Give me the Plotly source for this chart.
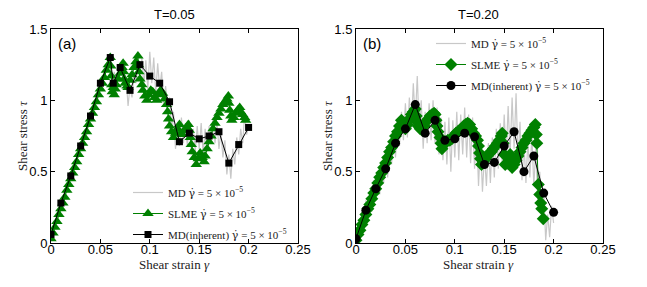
import plotly.graph_objects as go

# ---------------- data ----------------
# Panel (a) T=0.05
md_a_gamma = [round(i * 0.002, 3) for i in range(101)]
md_a_tau = [0.05, 0.10, 0.13, 0.19, 0.21, 0.28, 0.29, 0.35, 0.37, 0.43,
            0.45, 0.51, 0.52, 0.59, 0.61, 0.67, 0.69, 0.75, 0.76, 0.83,
            0.86, 0.91, 0.92, 1.00, 1.02, 1.09, 1.12, 1.18, 1.20, 1.28,
            1.33, 1.08, 1.20, 1.12, 1.24, 1.18, 1.27, 1.10, 1.16, 0.96,
            1.10, 1.02, 1.20, 1.12, 1.26, 1.18, 1.30, 1.10, 1.28, 1.08,
            1.34, 1.12, 1.30, 1.05, 1.26, 1.08, 1.20, 0.98, 1.10, 0.95,
            1.02, 0.80, 0.92, 0.66, 0.80, 0.68, 0.88, 0.70, 0.84, 0.68,
            0.86, 0.62, 0.80, 0.64, 0.82, 0.66, 0.84, 0.62, 0.80, 0.64,
            0.82, 0.70, 0.88, 0.70, 0.85, 0.66, 0.78, 0.60, 0.72, 0.48,
            0.62, 0.45, 0.66, 0.55, 0.74, 0.62, 0.80, 0.70, 0.90, 0.76,
            0.82]

slme_a_gamma = [0.000, 0.002, 0.004, 0.006, 0.008, 0.010, 0.012, 0.014, 0.016, 0.018,
                0.020, 0.022, 0.024, 0.026, 0.028, 0.030, 0.032, 0.034, 0.036, 0.038,
                0.040, 0.042, 0.044, 0.046, 0.048, 0.050, 0.052, 0.054, 0.056, 0.058,
                0.060, 0.0605, 0.061, 0.0615, 0.062, 0.063, 0.064, 0.065, 0.066, 0.068,
                0.070, 0.072, 0.073, 0.0735, 0.074, 0.075, 0.077, 0.078, 0.080, 0.082,
                0.084, 0.086, 0.088, 0.0885, 0.089, 0.090, 0.092, 0.093, 0.095, 0.097,
                0.099, 0.101, 0.103, 0.105, 0.107, 0.109, 0.111, 0.113, 0.115, 0.117,
                0.118, 0.119, 0.120, 0.122, 0.124, 0.126, 0.128, 0.130, 0.131, 0.133,
                0.135, 0.137, 0.139, 0.140, 0.141, 0.142, 0.143, 0.145, 0.147, 0.149,
                0.151, 0.153, 0.155, 0.156, 0.158, 0.160, 0.162, 0.164, 0.166, 0.168,
                0.170, 0.172, 0.174, 0.176, 0.178, 0.1795, 0.180, 0.181, 0.182, 0.183,
                0.185, 0.187, 0.189, 0.191, 0.192, 0.194, 0.196, 0.197]
slme_a_tau = [0.03, 0.07, 0.11, 0.15, 0.20, 0.24, 0.28, 0.32, 0.37, 0.41,
              0.45, 0.49, 0.53, 0.57, 0.62, 0.66, 0.70, 0.74, 0.78, 0.83,
              0.87, 0.91, 0.95, 0.99, 1.04, 1.08, 1.12, 1.16, 1.21, 1.25,
              1.30, 1.24, 1.17, 1.11, 1.06, 1.09, 1.04, 1.08, 1.11, 1.15,
              1.19, 1.23, 1.26, 1.20, 1.15, 1.12, 1.10, 1.09, 1.14, 1.18,
              1.23, 1.27, 1.31, 1.25, 1.20, 1.15, 1.11, 1.07, 1.03, 1.00,
              1.04, 1.07, 1.06, 1.02, 1.00, 1.04, 1.07, 1.05, 1.01, 0.97,
              0.92, 0.87, 0.82, 0.78, 0.74, 0.77, 0.80, 0.83, 0.77, 0.76,
              0.79, 0.81, 0.83, 0.79, 0.74, 0.69, 0.64, 0.60, 0.55, 0.59,
              0.63, 0.60, 0.57, 0.61, 0.66, 0.71, 0.75, 0.80, 0.84, 0.88,
              0.91, 0.94, 0.97, 0.99, 1.01, 1.03, 0.98, 0.93, 0.89, 0.86,
              0.88, 0.91, 0.93, 0.95, 0.92, 0.90, 0.88, 0.86]

inh_a_gamma = [0.00, 0.01, 0.02, 0.03, 0.04, 0.05, 0.06, 0.063, 0.07, 0.08, 0.09,
               0.10, 0.11, 0.12, 0.13, 0.14, 0.15, 0.16, 0.17, 0.18, 0.19, 0.20]
inh_a_tau = [0.06, 0.28, 0.47, 0.68, 0.89, 1.12, 1.30, 1.12, 1.23, 1.07, 1.25,
             1.17, 1.12, 0.99, 0.71, 0.77, 0.73, 0.75, 0.78, 0.56, 0.69, 0.81]

# Panel (b) T=0.20
md_b_gamma = [round(i * 0.002, 3) for i in range(101)]
md_b_tau = [0.02, 0.14, 0.05, 0.22, 0.12, 0.30, 0.18, 0.36, 0.22, 0.44,
            0.30, 0.50, 0.34, 0.56, 0.42, 0.64, 0.46, 0.70, 0.55, 0.78,
            0.60, 0.85, 0.68, 0.92, 0.72, 0.98, 0.74, 1.02, 0.80, 1.12,
            0.86, 1.17, 0.80, 1.00, 0.66, 0.92, 0.70, 0.98, 0.72, 1.00,
            0.70, 0.95, 0.62, 0.88, 0.58, 0.85, 0.55, 0.88, 0.50, 0.86,
            0.60, 0.92, 0.58, 0.90, 0.62, 0.95, 0.60, 0.90, 0.56, 0.88,
            0.52, 0.80, 0.40, 0.70, 0.36, 0.62, 0.40, 0.70, 0.42, 0.74,
            0.46, 0.80, 0.52, 0.84, 0.56, 0.90, 0.60, 0.96, 0.62, 1.02,
            0.66, 1.05, 0.58, 0.85, 0.44, 0.70, 0.42, 0.72, 0.46, 0.76,
            0.40, 0.66, 0.30, 0.50, 0.18, 0.36, 0.02, 0.20, 0.04, 0.26,
            0.14]

slme_b_gamma = [0.000, 0.002, 0.004, 0.006, 0.008, 0.010, 0.012, 0.014, 0.016, 0.018,
                0.020, 0.022, 0.024, 0.026, 0.028, 0.030, 0.032, 0.034, 0.036, 0.038,
                0.040, 0.042, 0.044, 0.046, 0.048, 0.050, 0.052, 0.054, 0.056, 0.058,
                0.060, 0.061, 0.062, 0.063, 0.065, 0.067, 0.069, 0.071, 0.073, 0.075,
                0.077, 0.079, 0.080, 0.081, 0.082, 0.083, 0.085, 0.086, 0.087, 0.089,
                0.091, 0.093, 0.095, 0.097, 0.099, 0.101, 0.103, 0.105, 0.107, 0.109,
                0.111, 0.113, 0.115, 0.117, 0.119, 0.121, 0.123, 0.124, 0.125, 0.126,
                0.127, 0.129, 0.131, 0.133, 0.135, 0.137, 0.139, 0.141, 0.143, 0.145,
                0.147, 0.148, 0.149, 0.150, 0.151, 0.153, 0.155, 0.156, 0.157, 0.158,
                0.160, 0.162, 0.164, 0.166, 0.168, 0.170, 0.172, 0.174, 0.176, 0.178,
                0.180, 0.1815, 0.1825, 0.183, 0.1845, 0.186, 0.187, 0.188, 0.1895]
slme_b_tau = [0.02, 0.06, 0.09, 0.13, 0.16, 0.20, 0.24, 0.27, 0.31, 0.35,
              0.38, 0.42, 0.46, 0.49, 0.53, 0.56, 0.60, 0.64, 0.67, 0.71,
              0.75, 0.78, 0.82, 0.86, 0.83, 0.80, 0.83, 0.87, 0.90, 0.92,
              0.94, 0.89, 0.85, 0.82, 0.80, 0.79, 0.82, 0.85, 0.87, 0.89,
              0.90, 0.91, 0.90, 0.86, 0.82, 0.78, 0.74, 0.70, 0.66, 0.69,
              0.71, 0.72, 0.72, 0.73, 0.75, 0.77, 0.78, 0.79, 0.80, 0.82,
              0.83, 0.84, 0.83, 0.80, 0.77, 0.75, 0.72, 0.68, 0.63, 0.59,
              0.55, 0.57, 0.59, 0.61, 0.63, 0.64, 0.66, 0.68, 0.70, 0.72,
              0.75, 0.77, 0.70, 0.62, 0.55, 0.56, 0.60, 0.62, 0.57, 0.53,
              0.55, 0.58, 0.61, 0.64, 0.67, 0.70, 0.72, 0.75, 0.77, 0.79,
              0.81, 0.83, 0.76, 0.70, 0.41, 0.34, 0.28, 0.24, 0.17]

inh_b_gamma = [0.00, 0.01, 0.02, 0.03, 0.04, 0.05, 0.06, 0.07, 0.08, 0.09, 0.10,
               0.11, 0.12, 0.13, 0.14, 0.15, 0.16, 0.17, 0.18, 0.19, 0.20]
inh_b_tau = [0.03, 0.23, 0.38, 0.52, 0.70, 0.80, 0.97, 0.77, 0.86, 0.72, 0.73,
             0.77, 0.745, 0.55, 0.565, 0.68, 0.78, 0.50, 0.61, 0.35, 0.215]

x_ticks = [0, 0.05, 0.1, 0.15, 0.2, 0.25]
x_ticklabels = ["0", "0.05", "0.1", "0.15", "0.2", "0.25"]
y_ticks = [0, 0.5, 1, 1.5]
y_ticklabels = ["0", "0.5", "1", "1.5"]

rate = ("<span style=\"font-family:'DejaVu Serif'\">γ̇</span>"
        " = 5 × 10<sup>−5</sup>")
lbl_md = "MD " + rate
lbl_slme = "SLME " + rate
lbl_inh = "MD(inherent) " + rate

# ---------------- figure ----------------
W, H = 647, 287
GRAY = "#c8c8c8"
GREEN = "#008000"
SANS = "Liberation Sans, Arial, sans-serif"
SERIF = "Liberation Serif, DejaVu Serif, serif"

fig = go.Figure()

# panel (a)
fig.add_trace(go.Scatter(x=md_a_gamma, y=md_a_tau, mode="lines", name=lbl_md,
                         line=dict(color=GRAY, width=1.2), xaxis="x", yaxis="y",
                         legend="legend", legendgroup="a1"))
fig.add_trace(go.Scatter(x=slme_a_gamma, y=slme_a_tau, mode="lines+markers", name=lbl_slme,
                         line=dict(color=GREEN, width=1),
                         marker=dict(symbol="triangle-up", size=10, color=GREEN),
                         xaxis="x", yaxis="y", legend="legend", legendgroup="a2"))
fig.add_trace(go.Scatter(x=inh_a_gamma, y=inh_a_tau, mode="lines+markers", name=lbl_inh,
                         line=dict(color="black", width=1),
                         marker=dict(symbol="square", size=7, color="black"),
                         xaxis="x", yaxis="y", legend="legend", legendgroup="a3"))

# panel (b)
fig.add_trace(go.Scatter(x=md_b_gamma, y=md_b_tau, mode="lines", name=lbl_md,
                         line=dict(color=GRAY, width=1.2), xaxis="x2", yaxis="y2",
                         legend="legend2", legendgroup="b1"))
fig.add_trace(go.Scatter(x=slme_b_gamma, y=slme_b_tau, mode="lines+markers", name=lbl_slme,
                         line=dict(color=GREEN, width=1),
                         marker=dict(symbol="diamond", size=10, color=GREEN),
                         xaxis="x2", yaxis="y2", legend="legend2", legendgroup="b2"))
fig.add_trace(go.Scatter(x=inh_b_gamma, y=inh_b_tau, mode="lines+markers", name=lbl_inh,
                         line=dict(color="black", width=1),
                         marker=dict(symbol="circle", size=9, color="black"),
                         xaxis="x2", yaxis="y2", legend="legend2", legendgroup="b3"))

def px_x(p):
    return p / W

def px_y(p):
    return 1 - p / H

axis_common = dict(showgrid=False, zeroline=False, showline=True, linecolor="black",
                   linewidth=1, mirror="ticks", ticks="inside", ticklen=4,
                   tickcolor="black", tickfont=dict(family=SANS, size=13, color="black"))

ydom = [px_y(243), px_y(29)]
fig.update_layout(
    width=W, height=H,
    margin=dict(l=0, r=0, t=0, b=0, autoexpand=False),
    paper_bgcolor="white", plot_bgcolor="white",
    showlegend=True,
    xaxis=dict(domain=[px_x(51), px_x(298)], range=[0, 0.25], tickvals=x_ticks,
               ticktext=x_ticklabels, anchor="y", ticklabelstandoff=-6, **axis_common),
    yaxis=dict(domain=ydom, range=[0, 1.5], tickvals=y_ticks, ticktext=y_ticklabels,
               anchor="x", **axis_common),
    xaxis2=dict(domain=[px_x(356), px_x(603)], range=[0, 0.25], tickvals=x_ticks,
                ticktext=x_ticklabels, anchor="y2", ticklabelstandoff=-6, **axis_common),
    yaxis2=dict(domain=ydom, range=[0, 1.5], tickvals=y_ticks, ticktext=y_ticklabels,
                anchor="x2", **axis_common),
    legend=dict(x=px_x(128), y=px_y(178), xanchor="left", yanchor="top",
                bgcolor="rgba(0,0,0,0)", font=dict(family=SERIF, size=11, color="#222"),
                itemwidth=30, tracegroupgap=2, itemclick=False),
    legend2=dict(x=px_x(431), y=px_y(29), xanchor="left", yanchor="top",
                 bgcolor="rgba(0,0,0,0)", font=dict(family=SERIF, size=11, color="#222"),
                 itemwidth=30, tracegroupgap=2, itemclick=False),
)

annots = [
    dict(text="T=0.05", x=px_x(174), y=px_y(14)),
    dict(text="T=0.20", x=px_x(479), y=px_y(14)),
]
for a in annots:
    fig.add_annotation(xref="paper", yref="paper", showarrow=False, xanchor="center",
                       yanchor="middle", font=dict(family=SANS, size=13, color="black"), **a)

fig.add_annotation(text="(a)", xref="paper", yref="paper", x=px_x(56), y=px_y(43),
                   xanchor="left", yanchor="middle", showarrow=False,
                   font=dict(family=SANS, size=15, color="black"))
fig.add_annotation(text="(b)", xref="paper", yref="paper", x=px_x(361), y=px_y(43),
                   xanchor="left", yanchor="middle", showarrow=False,
                   font=dict(family=SANS, size=15, color="black"))

for cx in (174, 479):
    fig.add_annotation(text="Shear strain <i>γ</i>", xref="paper", yref="paper",
                       x=px_x(cx), y=px_y(264), xanchor="center", yanchor="middle",
                       showarrow=False, font=dict(family=SERIF, size=13, color="#222"))
for cx in (22, 327):
    fig.add_annotation(text="Shear stress <i>τ</i>", xref="paper", yref="paper",
                       x=px_x(cx), y=px_y(136), xanchor="center", yanchor="middle",
                       textangle=-90, showarrow=False,
                       font=dict(family=SERIF, size=13, color="#222"))

fig.write_html("out.html", config={"displayModeBar": False},
               post_script="document.body.style.margin='0';document.body.style.overflow='hidden';")
